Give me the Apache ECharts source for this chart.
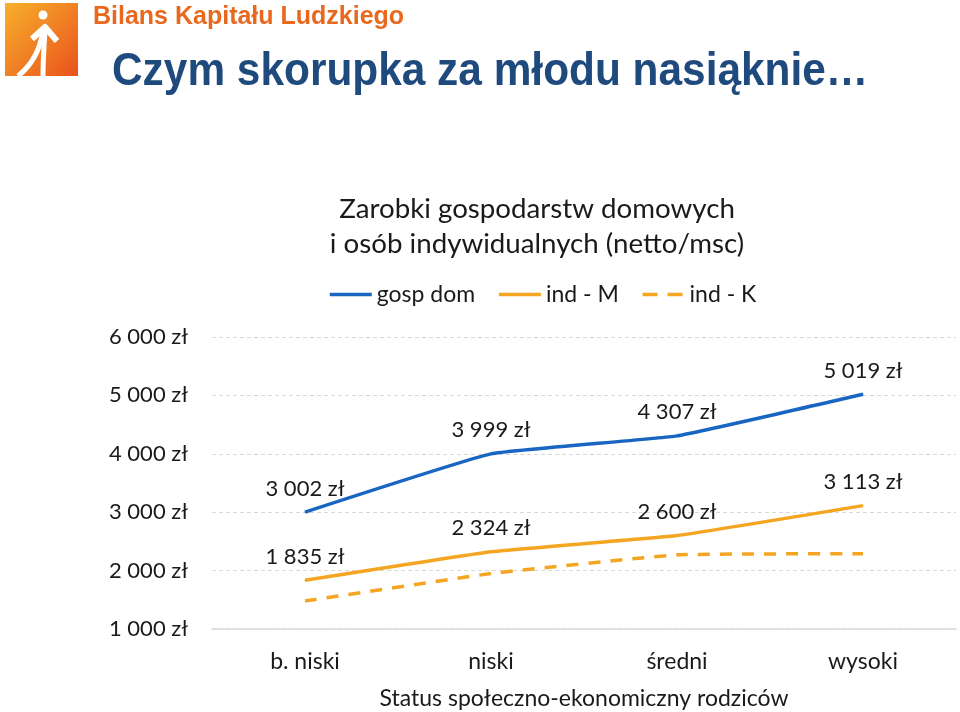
<!DOCTYPE html>
<html>
<head>
<meta charset="utf-8">
<script src="https://cdn.jsdelivr.net/npm/echarts@6/dist/echarts.min.js"></script>
<style>html,body{margin:0;padding:0;background:#fff;}#c{width:960px;height:712px;}</style>
</head>
<body>
<div id="c"></div>
<script>
const categories = ['b. niski', 'niski', 'średni', 'wysoki'];
const gospDom = [3002, 3999, 4307, 5019];
const indM = [1835, 2324, 2600, 3113];
const indK = [1480, 1950, 2270, 2290];
const seriesNames = ['gosp dom', 'ind - M', 'ind - K'];
const yTicks = { min: 1000, max: 6000, interval: 1000 };
const chartTitle = 'Zarobki gospodarstw domowych\ni osób indywidualnych (netto/msc)';
const xAxisTitle = 'Status społeczno-ekonomiczny rodziców';
const headerSmall = 'Bilans Kapitału Ludzkiego';
const headerBig = 'Czym skorupka za młodu nasiąknie…';

const FONT = 'Lato';
const TXT = '#1a1a1a';
const BLUE = '#1866C2';
const ORANGE = '#F4A623';
const fmt = v => String(v).replace(/\B(?=(\d{3})+(?!\d))/g, ' ') + ' zł';

const chart = echarts.init(document.getElementById('c'), null, { renderer: 'canvas' });
const labelCfg = {
  show: true, position: 'top', distance: 12,
  color: TXT, fontFamily: FONT, fontSize: 22,
  formatter: p => fmt(p.value)
};
chart.setOption({
  animation: false,
  backgroundColor: '#fff',
  grid: { left: 212, right: 4, top: 337, bottom: 83, containLabel: false, outerBoundsMode: 'none' },
  legend: {
    left: 323, top: 278,
    itemWidth: 42, itemHeight: 14, itemGap: 22,
    itemStyle: { opacity: 0 },
    lineStyle: { width: 3.5 },
    textStyle: { fontFamily: FONT, fontSize: 23, color: TXT },
    data: [
      { name: seriesNames[0] },
      { name: seriesNames[1] },
      { name: seriesNames[2], lineStyle: { type: [15, 10], width: 3.5 } }
    ]
  },
  xAxis: {
    type: 'category', data: categories, boundaryGap: true,
    axisLine: { show: true, lineStyle: { color: '#d9d9d9', width: 1.5 } },
    axisTick: { show: false },
    axisLabel: { fontFamily: FONT, fontSize: 23, color: TXT, margin: 21 },
    name: xAxisTitle, nameLocation: 'middle', nameGap: 58,
    nameTextStyle: { fontFamily: FONT, fontSize: 23, color: TXT }
  },
  yAxis: {
    type: 'value', min: yTicks.min, max: yTicks.max, interval: yTicks.interval,
    axisLine: { show: false }, axisTick: { show: false },
    splitLine: { lineStyle: { color: '#d9d9d9', type: [4, 3], width: 1 } },
    axisLabel: { fontFamily: FONT, fontSize: 22, color: TXT, margin: 24, formatter: v => fmt(v) }
  },
  graphic: [
    { type: 'rect', shape: { x: 5, y: 3, width: 73, height: 73 },
      style: { fill: new echarts.graphic.LinearGradient(0, 0, 1, 1, [
        { offset: 0, color: '#F8B02C' }, { offset: 1, color: '#E9521D' }]) } },
    { type: 'circle', shape: { cx: 43, cy: 15, r: 4.5 }, style: { fill: '#fff' } },
    { type: 'polyline', shape: { points: [[32, 39], [45, 27], [57, 41]] },
      style: { stroke: '#fff', lineWidth: 6, fill: null, lineJoin: 'round' } },
    { type: 'bezierCurve', shape: { x1: 43, y1: 31, cpx1: 40, cpy1: 50, cpx2: 32, cpy2: 65, x2: 18, y2: 76 },
      style: { stroke: '#fff', lineWidth: 5, fill: null } },
    { type: 'bezierCurve', shape: { x1: 45, y1: 30, cpx1: 44, cpy1: 45, cpx2: 43, cpy2: 60, x2: 43, y2: 76 },
      style: { stroke: '#fff', lineWidth: 5, fill: null } },
    { type: 'text', x: 93, y: 17,
      style: { text: headerSmall, fontFamily: 'Liberation Sans', fontWeight: 'bold', fontSize: 25, fill: '#E8691E', verticalAlign: 'middle' } },
    { type: 'text', x: 112, y: 72, scaleY: 1.08,
      style: { text: headerBig, fontFamily: 'Liberation Sans', fontWeight: 'bold', fontSize: 42.4, fill: '#1F4A7E', verticalAlign: 'middle' } },
    { type: 'text', x: 537, y: 192,
      style: { text: chartTitle, fontFamily: FONT, fontSize: 27.7, fill: TXT, align: 'center', lineHeight: 35 } }
  ],
  series: [
    { name: seriesNames[0], type: 'line', data: gospDom, smooth: 0.1, symbol: 'circle', symbolSize: 1, showSymbol: true,
      lineStyle: { color: BLUE, width: 3.5 }, itemStyle: { color: BLUE }, label: labelCfg },
    { name: seriesNames[1], type: 'line', data: indM, smooth: 0.1, symbol: 'circle', symbolSize: 1, showSymbol: true,
      lineStyle: { color: ORANGE, width: 3.5 }, itemStyle: { color: ORANGE }, label: labelCfg },
    { name: seriesNames[2], type: 'line', data: indK, smooth: 0.1, symbol: 'none',
      lineStyle: { color: ORANGE, width: 3.5, type: [12, 10] }, itemStyle: { color: ORANGE }, label: { show: false } }
  ]
});
</script>
</body>
</html>
